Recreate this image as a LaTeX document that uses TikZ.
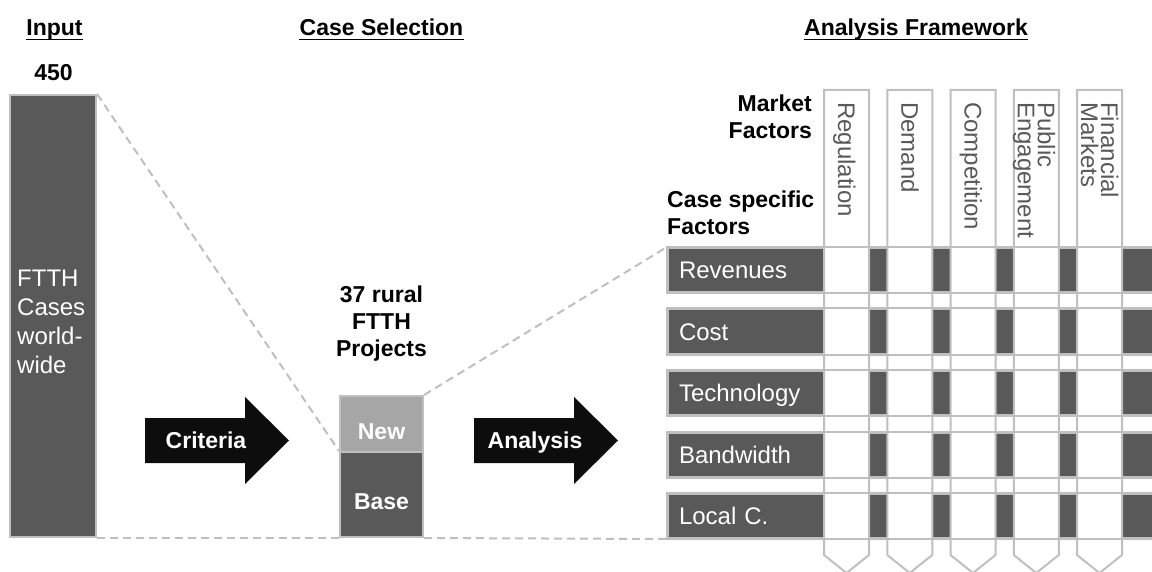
\documentclass[tikz,border=0pt]{standalone}
\usepackage{fontspec}
\setmainfont{Liberation Sans}
\usetikzlibrary{positioning, calc}
\definecolor{slate_gray}{RGB}{89, 89, 89}
\definecolor{edge_gray}{RGB}{191, 191, 191}
\definecolor{ash_gray}{RGB}{166, 166, 166}
\definecolor{ink_black}{RGB}{13, 13, 13}

\begin{document}
\begin{tikzpicture}[
    x=1pt, y=-1pt,
    % Bold heading text
    heading/.style={
        font=\fontsize{23}{27}\selectfont\bfseries,
        inner sep=0pt,
        anchor=base,
        align=center
    },
    % Underline below a heading
    underline/.style={
        line width=1.6pt
    },
    % Grey box with light edge
    block/.style={
        rectangle,
        draw=edge_gray,
        line width=2pt,
        fill=#1,
        inner sep=0pt
    },
    % Plain white text in a box
    boxtext/.style={
        font=\fontsize{24}{29}\selectfont,
        text=white,
        align=left,
        inner sep=0pt
    },
    % Case specific factor row
    factor/.style={
        block=slate_gray,
        anchor=north west,
        minimum width=493,
        minimum height=44,
        text width=471pt,
        inner xsep=11pt,
        align=left,
        text height=17pt,
        text depth=0pt,
        text=white,
        font=\fontsize{24}{29}\selectfont
    },
    % Market factor column
    column/.style={
        draw=edge_gray,
        fill=white,
        line width=2pt
    },
    % Rotated market factor label
    marketlabel/.style={
        rotate=-90,
        anchor=west,
        align=left,
        inner sep=0pt,
        text depth=0pt,
        text=slate_gray,
        font=\fontsize{24}{20}\selectfont
    },
    % Dashed zoom line
    link/.style={
        draw=edge_gray,
        line width=2pt,
        dash pattern=on 8pt off 5pt
    }
]
\useasboundingbox (0,0) rectangle (1152,572);

% Headings
\node[heading] (hInput) at (54.5,36) {Input};
\node[heading] (hSelection) at (381.5,36) {Case Selection};
\node[heading] (hFramework) at (916,36) {Analysis Framework};
\foreach \h in {hInput, hSelection, hFramework}
    \draw[underline] ([yshift=-3.5pt]\h.base west) -- ([yshift=-3.5pt]\h.base east);

% Input bar
\node[heading] (count) at (53.5,81) {450};
\node[block=slate_gray, minimum width=86, minimum height=442] (cases) at (53,316) {};
\node[boxtext, anchor=base west] (casestext) at (17,373) {FTTH\\Cases\\world-\\wide};

% Selected cases
\node[heading] (projects) at (381.5,356) {37 rural\\FTTH\\Projects};
\node[block=ash_gray, minimum width=83, minimum height=56] (new) at (381.5,424) {};
\node[block=slate_gray, minimum width=83, minimum height=85] (base) at (381.5,494.5) {};
\node[heading, text=white] (newtext) at (381.5,439) {New};
\node[heading, text=white] (basetext) at (381.5,509) {Base};

% Process arrows
\foreach \tx/\lbl/\nm in {145/Criteria/crit, 474/Analysis/anal} {
    \fill[ink_black] (\tx,418) -- ++(100,0) -- ++(0,-21) -- ++(44,43.5)
        -- ++(-44,43.5) -- ++(0,-21) -- ++(-100,0) -- cycle;
    \node[heading, text=white] (\nm) at (\tx+61,448) {\lbl};
}

% Framework axes
\node[heading, align=right, anchor=base east] (market) at (812,139) {Market\\Factors};
\node[heading, align=left, anchor=base west] (specific) at (667,235) {Case specific\\Factors};

% Rows, columns on top, then row edges again
\foreach \lbl [count=\i from 0] in {Revenues, Cost, Technology, Bandwidth, Local C.}
    \node[factor] (row\i) at (667,247+61.5*\i) {\lbl};

\foreach \i in {0,...,4}
    \filldraw[column] (824+63.25*\i,90) -- ++(45,0) -- ++(0,465) -- ++(-22.5,18) -- ++(-22.5,-18) -- cycle;

\foreach \i in {0,...,4}
    \draw[draw=edge_gray, line width=2pt] (row\i.north west) rectangle (row\i.south east);

\foreach \i/\lbl/\hgt in {0/Regulation/17, 1/Demand/17, 2/Competition/17, 3/{Public\\Engagement}/37, 4/{Financial\\Markets}/37}
    \node[marketlabel, text height=\hgt pt] (col\i) at (846.5+63.25*\i,102) {\lbl};

% Zoom lines
\draw[link] (cases.north east) -- (base.north west);
\draw[link] (cases.south east) -- (base.south west);
\draw[link] (new.north east) -- (row0.north west);
\draw[link] (base.south east) -- (row4.south west);

\end{tikzpicture}
\end{document}
